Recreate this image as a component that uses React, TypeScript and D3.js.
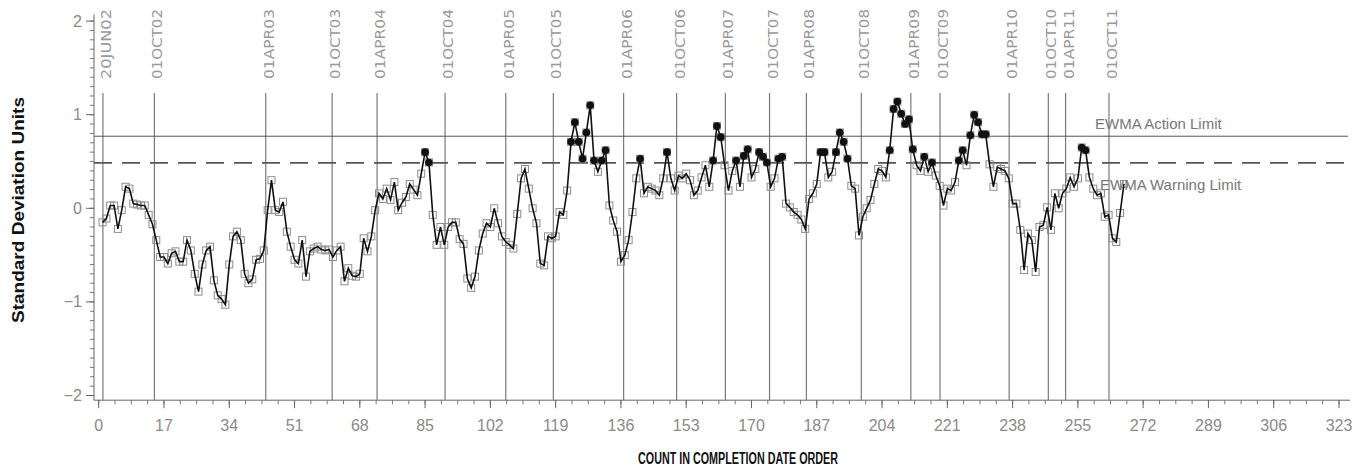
import React, { useEffect, useRef } from 'react';
import * as d3 from 'd3';

// EWMA values, one per completed item (count 1..267)
const ewma = [
  -0.15, -0.11, 0.03, 0.03, -0.22, -0.02, 0.23, 0.21, 0.05, 0.04,
  0.03, 0.03, -0.07, -0.17, -0.34, -0.52, -0.52, -0.59, -0.48, -0.46,
  -0.57, -0.57, -0.34, -0.45, -0.70, -0.89, -0.60, -0.45, -0.41, -0.77,
  -0.93, -0.97, -1.03, -0.60, -0.30, -0.25, -0.34, -0.70, -0.80, -0.76,
  -0.55, -0.54, -0.45, -0.02, 0.30, -0.02, -0.04, 0.07, -0.25, -0.41,
  -0.55, -0.59, -0.34, -0.73, -0.46, -0.43, -0.41, -0.44, -0.45, -0.44,
  -0.52, -0.45, -0.41, -0.78, -0.64, -0.72, -0.73, -0.70, -0.32, -0.46,
  -0.30, -0.02, 0.16, 0.10, 0.21, 0.09, 0.28, -0.02, 0.06, 0.12,
  0.26, 0.20, 0.14, 0.37, 0.60, 0.49, -0.07, -0.39, -0.20, -0.39,
  -0.20, -0.15, -0.15, -0.33, -0.38, -0.75, -0.85, -0.73, -0.45, -0.27,
  -0.16, -0.20, 0.00, -0.16, -0.30, -0.36, -0.39, -0.43, -0.06, 0.32,
  0.42, 0.21, 0.00, -0.16, -0.59, -0.61, -0.30, -0.32, -0.30, -0.04,
  -0.07, 0.19, 0.71, 0.92, 0.71, 0.53, 0.81, 1.10, 0.51, 0.39,
  0.51, 0.62, 0.03, -0.13, -0.25, -0.57, -0.50, -0.34, -0.04, 0.32,
  0.53, 0.16, 0.23, 0.21, 0.19, 0.14, 0.32, 0.60, 0.32, 0.19,
  0.35, 0.32, 0.37, 0.30, 0.14, 0.19, 0.33, 0.46, 0.23, 0.51,
  0.88, 0.76, 0.46, 0.19, 0.40, 0.51, 0.23, 0.56, 0.63, 0.33,
  0.42, 0.60, 0.55, 0.49, 0.23, 0.32, 0.53, 0.55, 0.05, 0.01,
  -0.04, -0.07, -0.12, -0.22, 0.10, 0.16, 0.26, 0.60, 0.60, 0.33,
  0.39, 0.60, 0.81, 0.71, 0.53, 0.24, 0.21, -0.29, -0.09, 0.00,
  0.09, 0.26, 0.42, 0.40, 0.33, 0.62, 1.06, 1.14, 1.01, 0.90,
  0.95, 0.63, 0.46, 0.40, 0.55, 0.39, 0.49, 0.35, 0.24, 0.03,
  0.21, 0.19, 0.28, 0.51, 0.62, 0.46, 0.78, 1.00, 0.92, 0.79,
  0.79, 0.47, 0.23, 0.44, 0.42, 0.40, 0.32, 0.05, 0.05, -0.23,
  -0.66, -0.27, -0.34, -0.68, -0.20, -0.18, 0.01, -0.23, 0.16, 0.00,
  0.16, 0.21, 0.33, 0.23, 0.32, 0.65, 0.62, 0.33, 0.21, 0.14,
  0.16, -0.09, -0.07, -0.32, -0.36, -0.05, 0.26,
];

// date reference lines (position on the count axis)
const dateLabels = [
  '20JUN02', '01OCT02', '01APR03', '01OCT03', '01APR04', '01OCT04', '01APR05',
  '01OCT05', '01APR06', '01OCT06', '01APR07', '01OCT07', '01APR08', '01OCT08',
  '01APR09', '01OCT09', '01APR10', '01OCT10', '01APR11', '01OCT11',
];
const dateCounts = [
  1.1, 14.5, 43.5, 60.8, 72.5, 90.2, 106, 118.4, 136.7, 150.5,
  163.2, 174.7, 184.3, 198.6, 211.5, 219.1, 237.1, 247.3, 251.8, 263.1,
];

const xTickValues = [0, 17, 34, 51, 68, 85, 102, 119, 136, 153, 170, 187, 204, 221, 238, 255, 272, 289, 306, 323];
const yTickValues = [-2, -1, 0, 1, 2];

const actionLimit = 0.77;
const warningLimit = 0.485;

const tickFont = '"Liberation Sans Narrow", "Liberation Sans", Arial, sans-serif';

export default function App() {
  const ref = useRef<SVGSVGElement>(null);

  useEffect(() => {
    const svg = d3.select(ref.current);
    svg.selectAll('*').remove();

    const x = d3.scaleLinear().domain([0, 323]).range([98.7, 1339]);
    const y = d3.scaleLinear().domain([-2, 2]).range([395.5, 21.1]);
    const left = 94;
    const right = 1350;
    const bottom = y(-2.05);
    const top = y(2.07);

    const points = ewma.map((v, i) => ({ count: i + 1, value: v }));

    // axes
    svg.append('line')
      .attr('x1', left).attr('x2', left).attr('y1', top).attr('y2', bottom)
      .attr('stroke', '#666').attr('stroke-width', 1);
    svg.append('line')
      .attr('x1', left).attr('x2', right).attr('y1', bottom).attr('y2', bottom)
      .attr('stroke', '#666').attr('stroke-width', 1);

    // y ticks (minor every 0.1)
    svg.selectAll('.ymin')
      .data(d3.range(-20, 21).map((i) => i / 10))
      .enter().append('line')
      .attr('x1', left - 4).attr('x2', left)
      .attr('y1', (d) => y(d)).attr('y2', (d) => y(d))
      .attr('stroke', '#777');
    svg.selectAll('.ymaj')
      .data(yTickValues)
      .enter().append('line')
      .attr('x1', left - 8).attr('x2', left)
      .attr('y1', (d) => y(d)).attr('y2', (d) => y(d))
      .attr('stroke', '#666');
    svg.selectAll('.ylab')
      .data(yTickValues)
      .enter().append('text')
      .attr('x', left - 12).attr('y', (d) => y(d))
      .attr('text-anchor', 'end').attr('dominant-baseline', 'central')
      .style('font-family', tickFont).style('font-size', '16px').style('fill', '#8a8a8a')
      .text((d) => (d < 0 ? `\u2212${-d}` : `${d}`));

    // x ticks (minor every 4.25)
    svg.selectAll('.xmin')
      .data(d3.range(0, 324, 4.25))
      .enter().append('line')
      .attr('x1', (d) => x(d)).attr('x2', (d) => x(d))
      .attr('y1', bottom).attr('y2', bottom + 4)
      .attr('stroke', '#777');
    svg.selectAll('.xmaj')
      .data(xTickValues)
      .enter().append('line')
      .attr('x1', (d) => x(d)).attr('x2', (d) => x(d))
      .attr('y1', bottom).attr('y2', bottom + 8)
      .attr('stroke', '#666');
    svg.selectAll('.xlab')
      .data(xTickValues)
      .enter().append('text')
      .attr('x', (d) => x(d)).attr('y', bottom + 25)
      .attr('text-anchor', 'middle').attr('dominant-baseline', 'central')
      .style('font-family', tickFont).style('font-size', '16px').style('fill', '#8a8a8a')
      .text((d) => d);

    // date reference lines
    svg.selectAll('.dline')
      .data(dateCounts)
      .enter().append('line')
      .attr('x1', (d) => x(d)).attr('x2', (d) => x(d))
      .attr('y1', 93).attr('y2', bottom)
      .attr('stroke', '#7a7a7a').attr('stroke-width', 1.2);
    svg.selectAll('.dlab')
      .data(dateCounts)
      .enter().append('text')
      .attr('transform', (d) => `translate(${x(d) + 3},79) rotate(-90)`)
      .attr('text-anchor', 'start').attr('dominant-baseline', 'central')
      .attr('textLength', 70).attr('lengthAdjust', 'spacingAndGlyphs')
      .style('font-family', '"DejaVu Sans", sans-serif').style('font-size', '14px').style('fill', '#999')
      .text((d, i) => dateLabels[i]);

    // limit lines
    svg.append('line')
      .attr('x1', left).attr('x2', 1348).attr('y1', y(actionLimit)).attr('y2', y(actionLimit))
      .attr('stroke', '#555').attr('stroke-width', 1);
    svg.append('line')
      .attr('x1', left).attr('x2', 1348).attr('y1', y(warningLimit)).attr('y2', y(warningLimit))
      .attr('stroke', '#555').attr('stroke-width', 1.6).attr('stroke-dasharray', '18,10');

    svg.append('text')
      .attr('x', 1095).attr('y', y(actionLimit) - 13)
      .attr('dominant-baseline', 'central')
      .style('font-family', tickFont).style('font-size', '15px').style('fill', '#777')
      .text('EWMA Action Limit');
    svg.append('text')
      .attr('x', 1100).attr('y', y(warningLimit) + 22)
      .attr('dominant-baseline', 'central')
      .style('font-family', tickFont).style('font-size', '15px').style('fill', '#777')
      .text('EWMA Warning Limit');

    // series
    svg.selectAll('.sq')
      .data(points)
      .enter().append('rect')
      .attr('x', (d) => x(d.count) - 3.5).attr('y', (d) => y(d.value) - 3.5)
      .attr('width', 7).attr('height', 7)
      .attr('fill', 'none').attr('stroke', '#8c8c8c').attr('stroke-width', 1);

    const line = d3.line<{ count: number; value: number }>()
      .x((d) => x(d.count))
      .y((d) => y(d.value));
    svg.append('path')
      .datum(points)
      .attr('d', line)
      .attr('fill', 'none').attr('stroke', '#111').attr('stroke-width', 1.6);

    svg.selectAll('.dot')
      .data(points.filter((d) => d.value > warningLimit))
      .enter().append('circle')
      .attr('cx', (d) => x(d.count)).attr('cy', (d) => y(d.value))
      .attr('r', 3.8).attr('fill', '#111');

    // axis titles
    svg.append('text')
      .attr('transform', 'translate(18,210) rotate(-90)')
      .attr('text-anchor', 'middle').attr('dominant-baseline', 'central')
      .attr('textLength', 226).attr('lengthAdjust', 'spacingAndGlyphs')
      .style('font-family', '"Liberation Sans", Arial, sans-serif')
      .style('font-size', '17px').style('font-weight', 'bold').style('fill', '#111')
      .text('Standard  Deviation  Units');
    svg.append('text')
      .attr('x', 738).attr('y', 458)
      .attr('text-anchor', 'middle').attr('dominant-baseline', 'central')
      .attr('textLength', 200).attr('lengthAdjust', 'spacingAndGlyphs')
      .style('font-family', '"Liberation Sans", Arial, sans-serif')
      .style('font-size', '16px').style('font-weight', 'bold').style('fill', '#111')
      .text('COUNT IN COMPLETION DATE ORDER');
  }, []);

  return (
    <>
      <style>{'body{margin:0}'}</style>
      <svg ref={ref} width={1370} height={472} style={{ display: 'block', background: '#fff' }} />
    </>
  );
}
